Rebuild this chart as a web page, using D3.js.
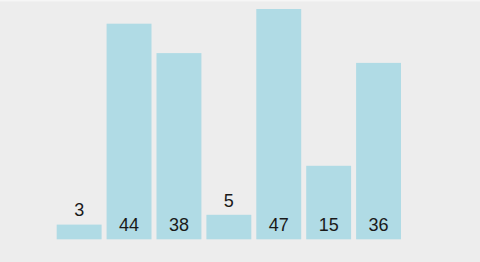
<!DOCTYPE html>
<html lang="en">
<head>
  <meta charset="UTF-8">
  <title>Bars</title>
  <script src="https://d3js.org/d3.v7.min.js"></script>
  <style>
    html, body {
      margin: 0;
      padding: 0;
      background: #ededed;
    }
    svg {
      display: block;
      font-family: "Liberation Sans", Arial, sans-serif;
    }
  </style>
</head>
<body>
<svg width="480" height="262"></svg>
<script>
const values = [3, 44, 38, 5, 47, 15, 36];
const labels = values.map(String);

const svg = d3.select("svg");

svg.append("rect")
  .attr("width", 480)
  .attr("height", 262)
  .attr("fill", "#ededed");

svg.append("rect")
  .attr("width", 480)
  .attr("height", 1.5)
  .attr("fill", "#f6f6f6");

const x = d3.scaleBand()
  .domain(d3.range(values.length))
  .range([54.2, 403.5])
  .paddingInner(0.1)
  .paddingOuter(0.05);

const y = d3.scaleLinear()
  .domain([0, 47])
  .range([239.3, 9]);

svg.selectAll("rect.bar")
  .data(values)
  .enter()
  .append("rect")
  .attr("class", "bar")
  .attr("x", (d, i) => x(i))
  .attr("y", d => y(d))
  .attr("width", x.bandwidth())
  .attr("height", d => y(0) - y(d))
  .attr("fill", "#b0dbe5");

// small bars get the label on top, others inside near the bottom
svg.selectAll("text.label")
  .data(values)
  .enter()
  .append("text")
  .attr("class", "label")
  .attr("x", (d, i) => x(i) + x.bandwidth() / 2)
  .attr("y", d => (y(0) - y(d)) < 30 ? y(d) - 8.3 : y(0) - 8.6)
  .attr("text-anchor", "middle")
  .attr("font-size", 18)
  .attr("fill", "#1a1a1a")
  .text((d, i) => labels[i]);
</script>
</body>
</html>
